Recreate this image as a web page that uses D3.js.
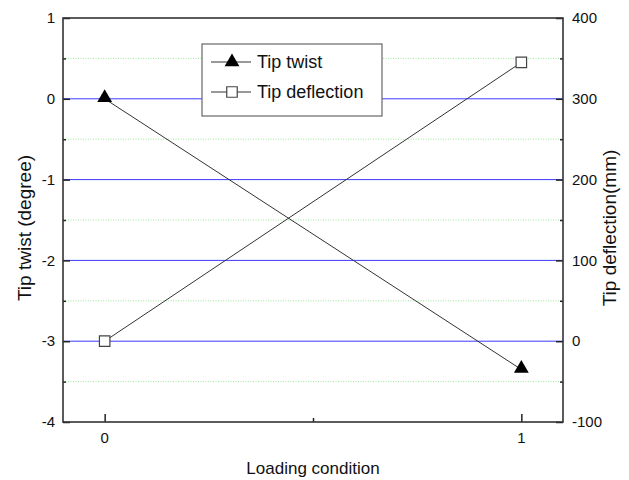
<!DOCTYPE html>
<html><head><meta charset="utf-8">
<script src="https://cdn.jsdelivr.net/npm/d3@7"></script>
<style>body{margin:0;background:#fff}svg{display:block}text{font-family:"Liberation Sans",Arial,sans-serif;fill:#111}</style>
</head><body><svg id="c" width="629" height="480"></svg>
<script>
const loading = [0, 1];
const tipTwist = [0, -3.35];
const tipDeflection = [0, 345];
const xTicks = [0, 1];
const leftTicks = [1, 0, -1, -2, -3, -4];
const rightTicks = [400, 300, 200, 100, 0, -100];

const svg = d3.select("#c");
const L = 63, R = 563, T = 18, B = 422;
const x = d3.scaleLinear().domain([-0.1, 1.1]).range([L, R]);
const yL = d3.scaleLinear().domain([-4, 1]).range([B, T]);
const yR = d3.scaleLinear().domain([-100, 400]).range([B, T]);

// grid
const minorL = d3.range(-3.5, 1, 1);
svg.append("g").selectAll("line").data(minorL).join("line")
  .attr("x1", L).attr("x2", R).attr("y1", d => yL(d)).attr("y2", d => yL(d))
  .attr("stroke", "#9fe89f").attr("stroke-width", 1).attr("stroke-dasharray", "1,1.5");
svg.append("g").selectAll("line").data([0, -1, -2, -3]).join("line")
  .attr("x1", L).attr("x2", R).attr("y1", d => yL(d)).attr("y2", d => yL(d))
  .attr("stroke", "#3b3bff").attr("stroke-width", 1);

// axes ticks (inward)
const axL = d3.axisRight(yL).tickValues(leftTicks).tickSize(7).tickFormat("");
const gL = svg.append("g").attr("transform", `translate(${L},0)`).call(axL);
svg.append("g").attr("transform", `translate(${L},0)`).call(d3.axisRight(yL).tickValues(minorL).tickSize(3).tickFormat(""));
const gR = svg.append("g").attr("transform", `translate(${R},0)`).call(d3.axisLeft(yR).tickValues(rightTicks).tickSize(7).tickFormat(""));
svg.append("g").attr("transform", `translate(${R},0)`).call(d3.axisLeft(yR).tickValues(d3.range(-50, 400, 100)).tickSize(3).tickFormat(""));
svg.append("g").attr("transform", `translate(0,${B})`).call(d3.axisTop(x).tickValues(xTicks).tickSize(8).tickFormat(""));
svg.append("g").attr("transform", `translate(0,${B})`).call(d3.axisTop(x).tickValues([0.5]).tickSize(4).tickFormat(""));
svg.selectAll(".domain").remove();
svg.selectAll(".tick line").attr("stroke", "#222").attr("stroke-width", 1.5);

// frame
svg.append("rect").attr("x", L).attr("y", T).attr("width", R - L).attr("height", B - T)
  .attr("fill", "none").attr("stroke", "#333").attr("stroke-width", 1.6);

// tick labels
svg.append("g").selectAll("text").data(leftTicks).join("text")
  .attr("x", 55).attr("y", d => yL(d)).attr("dy", "0.35em").attr("text-anchor", "end")
  .attr("font-size", 15).text(d => d);
svg.append("g").selectAll("text").data(rightTicks).join("text")
  .attr("x", 572).attr("y", d => yR(d)).attr("dy", "0.35em").attr("text-anchor", "start")
  .attr("font-size", 15).text(d => d);
svg.append("g").selectAll("text").data(xTicks).join("text")
  .attr("x", d => x(d)).attr("y", 443).attr("text-anchor", "middle")
  .attr("font-size", 15).text(d => d);

// titles
svg.append("text").attr("x", 313).attr("y", 474).attr("text-anchor", "middle").attr("font-size", 17).text("Loading condition");
svg.append("text").attr("transform", "translate(31,228) rotate(-90)").attr("text-anchor", "middle").attr("font-size", 19).text("Tip twist (degree)");
svg.append("text").attr("transform", "translate(616,228) rotate(-90)").attr("text-anchor", "middle").attr("font-size", 19).text("Tip deflection(mm)");

// lines
const lineTw = d3.line().x((d, i) => x(loading[i])).y(d => yL(d));
const lineDf = d3.line().x((d, i) => x(loading[i])).y(d => yR(d));
svg.append("path").attr("d", lineTw(tipTwist)).attr("fill", "none").attr("stroke", "#333").attr("stroke-width", 1);
svg.append("path").attr("d", lineDf(tipDeflection)).attr("fill", "none").attr("stroke", "#333").attr("stroke-width", 1);

const tri = d3.symbol().type(d3.symbolTriangle).size(95);
const sq = d3.symbol().type(d3.symbolSquare).size(110);
svg.append("g").selectAll("path").data(tipTwist).join("path")
  .attr("d", tri).attr("transform", (d, i) => `translate(${x(loading[i])},${yL(d) - 1})`)
  .attr("fill", "#000");
svg.append("g").selectAll("path").data(tipDeflection).join("path")
  .attr("d", sq).attr("transform", (d, i) => `translate(${x(loading[i])},${yR(d)})`)
  .attr("fill", "#fff").attr("stroke", "#444").attr("stroke-width", 1.2);

// legend
const lg = svg.append("g");
lg.append("rect").attr("x", 202).attr("y", 44).attr("width", 180).attr("height", 72)
  .attr("fill", "#fff").attr("stroke", "#666").attr("stroke-width", 1.2);
const rows = [{name: "Tip twist", y: 62, sym: tri, fill: "#000", stroke: "none"},
              {name: "Tip deflection", y: 92, sym: sq, fill: "#fff", stroke: "#444"}];
rows.forEach(r => {
  lg.append("line").attr("x1", 211).attr("x2", 251).attr("y1", r.y).attr("y2", r.y).attr("stroke", "#333");
  lg.append("path").attr("d", r.sym).attr("transform", `translate(232,${r.y})`).attr("fill", r.fill).attr("stroke", r.stroke).attr("stroke-width", 1.2);
  lg.append("text").attr("x", 257).attr("y", r.y).attr("dy", "0.36em").attr("font-size", 18).text(r.name);
});
</script></body></html>
